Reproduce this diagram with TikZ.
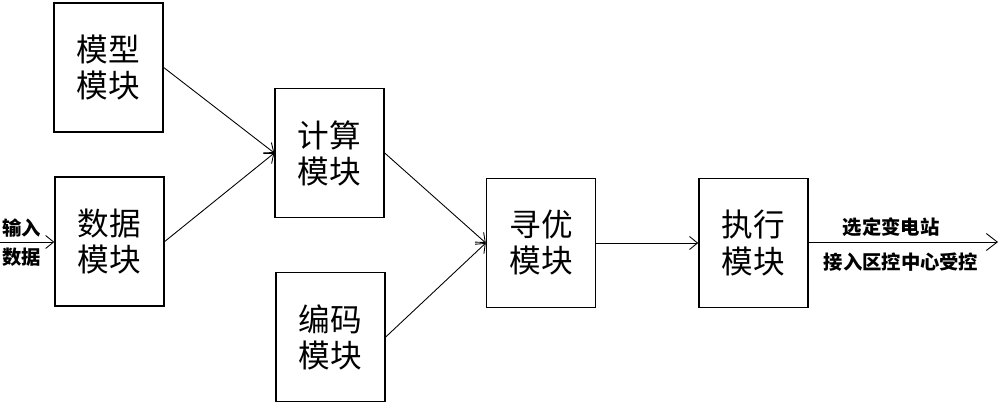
\documentclass[tikz,border=0pt]{standalone}
\usepackage{fontspec}
\usepackage{tikz}
\usetikzlibrary{arrows.meta, positioning}
\newfontfamily\cjk{Noto Sans CJK SC}

\begin{document}
\begin{tikzpicture}[
    font=\cjk,
    modbox/.style={draw, line width=0.8pt, minimum width=2.18cm, minimum height=2.58cm, align=center, inner sep=0pt, font=\cjk\fontsize{18}{20.5}\selectfont},
    sig/.style={font=\cjk\bfseries\fontsize{11}{13}\selectfont, inner sep=1pt},
    ar/.style={-{Straight Barb[length=1.6mm, width=2.6mm]}, line width=0.5pt}
  ]
    \useasboundingbox (0,0) rectangle (20,8.04);
    \node[modbox] (model) at (2.17,6.69) {模型\\模块};
    \node[modbox] (data) at (2.19,3.21) {数据\\模块};
    \node[modbox] (calc) at (6.59,4.98) {计算\\模块};
    \node[modbox] (code) at (6.61,1.30) {编码\\模块};
    \node[modbox] (opt) at (10.82,3.18) {寻优\\模块};
    \node[modbox, right=2.04cm of opt] (exec) {执行\\模块};
    % input and output ends
    \coordinate (in) at (0,3.2);
    \coordinate (out) at (19.96,3.2);
    \node[sig, anchor=south west] (inl) at (0,3.26) {输入};
    \node[sig, anchor=north west] (inl2) at (0,3.12) {数据};
    \draw[ar] (in) -- (data.west |- in);
    \draw[ar] (model.east) -- (calc.west);
    \draw[ar] (data.east) -- (calc.west);
    \draw[ar] (calc.east) -- (opt.west);
    \draw[ar] (code.east) -- (opt.west);
    \draw[ar] (opt.east) -- (exec.west |- opt.east);
    \draw[ar, -{Straight Barb[length=2.2mm, width=3.4mm]}] (exec.east |- out) -- (out);
    \node[sig] (outl) at (17.82,3.5) {选定变电站};
    \node[sig] (outl2) at (18.02,2.8) {接入区控中心受控};
  \end{tikzpicture}
\end{document}
